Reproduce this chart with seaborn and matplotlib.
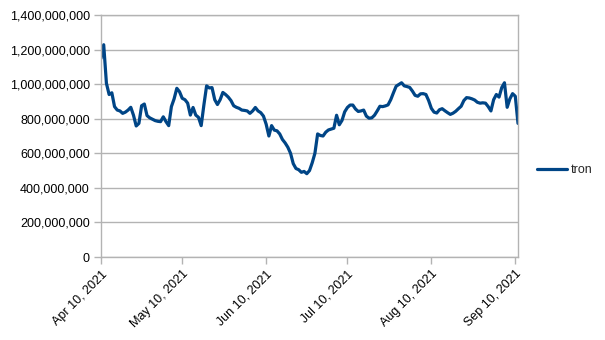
import matplotlib
matplotlib.use("Agg")
import matplotlib.pyplot as plt
from matplotlib.ticker import FuncFormatter, MultipleLocator
import pandas as pd
import seaborn as sns

# Daily trading volume for tron, starting 2021-04-10
start_date = "2021-04-10"
tron = [
    1149, 1228, 1005, 940, 950, 870, 850, 845, 831, 838,
    850, 866, 820, 758, 773, 875, 885, 818, 805, 797,
    789, 785, 783, 811, 783, 760, 870, 915, 976, 956,
    918, 910, 890, 821, 865, 821, 808, 760, 880, 990,
    978, 980, 910, 882, 910, 952, 940, 925, 905, 875,
    866, 860, 850, 848, 845, 831, 845, 865, 845, 835,
    815, 768, 700, 760, 734, 730, 712, 680, 660, 635,
    600, 540, 512, 505, 490, 495, 482, 500, 545, 600,
    712, 703, 700, 722, 735, 740, 745, 820, 765, 790,
    840, 865, 879, 879, 856, 842, 845, 850, 815, 803,
    805, 820, 845, 872, 870, 874, 880, 910, 950, 988,
    998, 1008, 990, 986, 981, 960, 935, 930, 944, 945,
    940, 905, 860, 838, 833, 852, 858, 846, 835, 825,
    832, 843, 858, 872, 905, 922, 920, 915, 908, 895,
    890, 892, 890, 870, 845, 910, 940, 925, 980, 1008,
    866, 915, 945, 930, 773,
]
tick_dates = ["2021-04-10", "2021-05-10", "2021-06-10",
              "2021-07-10", "2021-08-10", "2021-09-10"]

df = pd.DataFrame({
    "date": pd.date_range(start_date, periods=len(tron), freq="D"),
    "volume": [v * 1_000_000 for v in tron],
})

sns.set_style("white")
plt.rcParams["font.family"] = ["Liberation Sans", "DejaVu Sans"]

fig = plt.figure(figsize=(6.05, 3.40), dpi=100)
ax = fig.add_axes([101 / 605, 1 - 257 / 340, (518 - 101) / 605, (257 - 15) / 340])

grid_c = "#b3b3b3"
sns.lineplot(data=df, x="date", y="volume", ax=ax, color="#004586",
             linewidth=2.3, label="tron")

ax.set_xlim(df["date"].iloc[0], df["date"].iloc[-1])
ax.set_ylim(0, 1_400_000_000)
ax.yaxis.set_major_locator(MultipleLocator(200_000_000))
ax.yaxis.set_major_formatter(FuncFormatter(lambda v, _: f"{v:,.0f}"))

ticks = pd.to_datetime(tick_dates)
ax.set_xticks(ticks)
ax.set_xticklabels([t.strftime("%b %d, %Y").replace(" 0", " ") for t in ticks],
                   rotation=45, ha="right", rotation_mode="anchor")

ax.grid(axis="y", color=grid_c, linewidth=1)
ax.set_axisbelow(True)
for s in ax.spines.values():
    s.set_color(grid_c)
    s.set_linewidth(1)
ax.tick_params(axis="both", which="major", length=5, width=1, color=grid_c,
               labelsize=9, labelcolor="black", pad=3, direction="out",
               bottom=True, left=True)
ax.set_xlabel("")
ax.set_ylabel("")

handles, labels = ax.get_legend_handles_labels()
ax.get_legend().remove()
fig.legend(handles, labels, loc="center left", bbox_to_anchor=(0.869, 0.5),
           frameon=False, fontsize=9, handlelength=2.4, handletextpad=0.3)

fig.savefig("out.png", dpi=100)
